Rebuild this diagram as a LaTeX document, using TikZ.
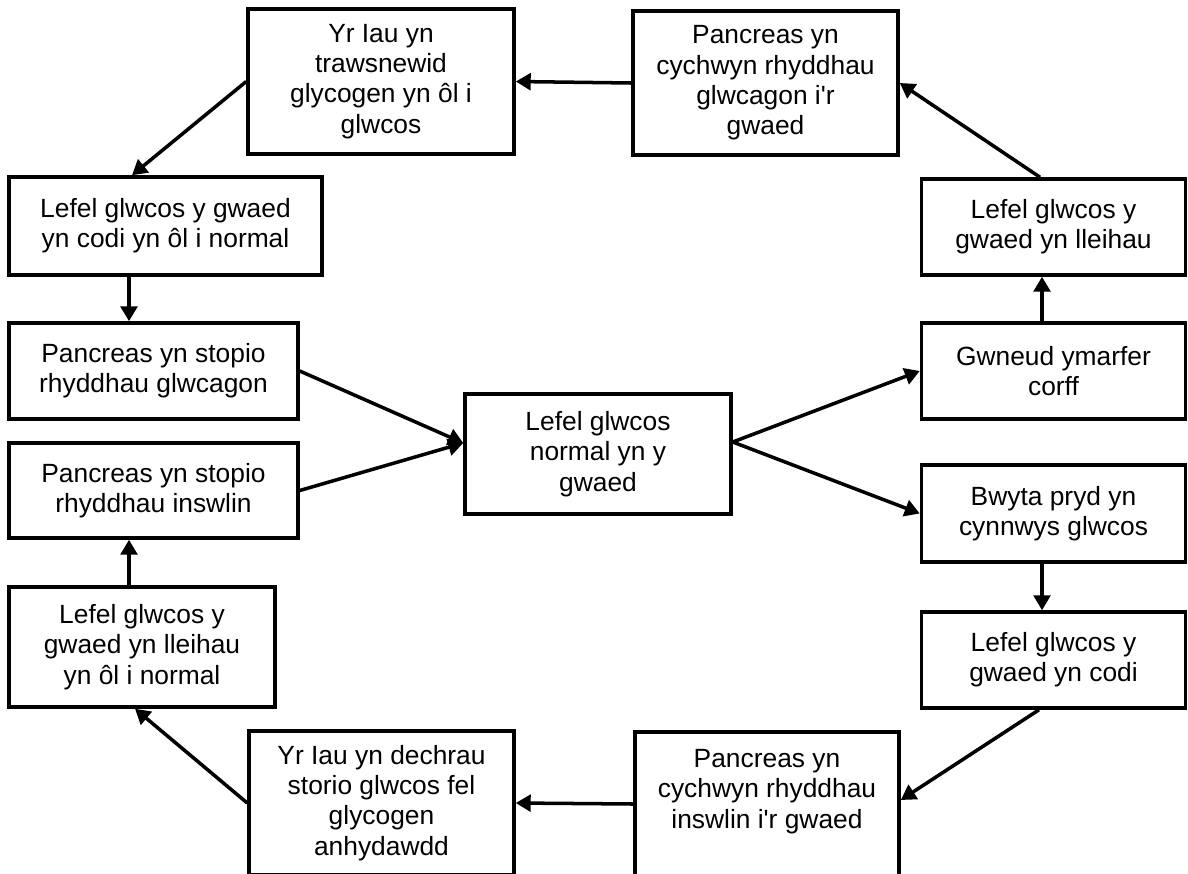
\documentclass[tikz,border=0pt]{standalone}
\usepackage{fontspec}
\usepackage{tikz}
\usetikzlibrary{arrows.meta}
\newfontfamily\boxfont{Liberation Sans}
\tikzset{
  stage/.style 2 args={draw,line width=2pt,align=center,inner sep=0pt,minimum width=#1cm,minimum height=#2cm,font=\boxfont\fontsize{15}{17.2}\selectfont},
  flow/.style={line width=2pt,-{Triangle[length=8.5pt,width=9.5pt]}}
}

\begin{document}
\begin{tikzpicture}
\useasboundingbox (0,0) rectangle (23.76,-17.46);
% boxes round the loop
\node[stage={5.32}{2.9}] (trawsnewid) at (7.62,-1.63) {Yr Iau yn\\trawsnewid\\glycogen yn ôl i\\glwcos};
\node[stage={5.3}{2.88}] (glwcagon) at (15.31,-1.66) {Pancreas yn\\cychwyn rhyddhau\\glwcagon i'r\\gwaed};
\node[stage={6.26}{1.96}] (codinormal) at (3.31,-4.52) {Lefel glwcos y gwaed\\yn codi yn ôl i normal};
\node[stage={5.28}{1.92}] (lleihau) at (21.07,-4.54) {Lefel glwcos y\\gwaed yn lleihau};
\node[stage={5.78}{1.92}] (stopglwcagon) at (3.07,-7.42) {Pancreas yn stopio\\rhyddhau glwcagon};
\node[stage={5.28}{1.92}] (ymarfer) at (21.07,-7.42) {Gwneud ymarfer\\corff};
\node[stage={5.32}{2.4}] (normal) at (11.96,-9.08) {Lefel glwcos\\normal yn y\\gwaed};
\node[stage={5.78}{1.9}] (stopinswlin) at (3.07,-9.81) {Pancreas yn stopio\\rhyddhau inswlin};
\node[stage={5.28}{1.94}] (bwyta) at (21.07,-10.27) {Bwyta pryd yn\\cynnwys glwcos};
\node[stage={5.32}{2.4}] (lleihaunormal) at (2.84,-12.94) {Lefel glwcos y\\gwaed yn lleihau\\yn ôl i normal};
\node[stage={5.28}{1.92}] (codi) at (21.07,-13.2) {Lefel glwcos y\\gwaed yn codi};
\node[stage={5.3}{2.88}] (storio) at (7.63,-16.06) {Yr Iau yn dechrau\\storio glwcos fel\\glycogen\\anhydawdd};
\node[stage={5.28}{2.88}] (inswlin) at (15.34,-16.08) {Pancreas yn\\cychwyn rhyddhau\\inswlin i'r gwaed\\~};
% arrows
\draw[flow] (normal.east) ++(0,0.24) -- (ymarfer.west);
\draw[flow] (normal.east) ++(0,0.24) -- (bwyta.west);
\draw[flow] ([xshift=-2.3mm]ymarfer.north) -- ([xshift=-2.3mm]lleihau.south);
\draw[flow] ([xshift=-2.7mm]lleihau.north) -- (glwcagon.east);
\draw[flow] (glwcagon.west) -- (trawsnewid.east);
\draw[flow] (trawsnewid.west) -- ([xshift=-6.7mm]codinormal.north);
\draw[flow] ([xshift=-7.3mm]codinormal.south) -- ([xshift=-7.3mm]codinormal.south |- stopglwcagon.north);
\draw[flow] (stopglwcagon.east) -- ([yshift=2.2mm]normal.west);
\draw[flow] ([xshift=-2.3mm]bwyta.south) -- ([xshift=-2.3mm]codi.north);
\draw[flow] ([xshift=-2.9mm]codi.south) -- ([yshift=0.8mm]inswlin.east);
\draw[flow] (inswlin.west) -- (storio.east);
\draw[flow] (storio.west) -- ([xshift=-1.4mm]lleihaunormal.south);
\draw[flow] ([xshift=-2.6mm]lleihaunormal.north) -- ([xshift=-2.6mm]lleihaunormal.north |- stopinswlin.south);
\draw[flow] (stopinswlin.east) -- ([yshift=2.2mm]normal.west);
\end{tikzpicture}
\end{document}
